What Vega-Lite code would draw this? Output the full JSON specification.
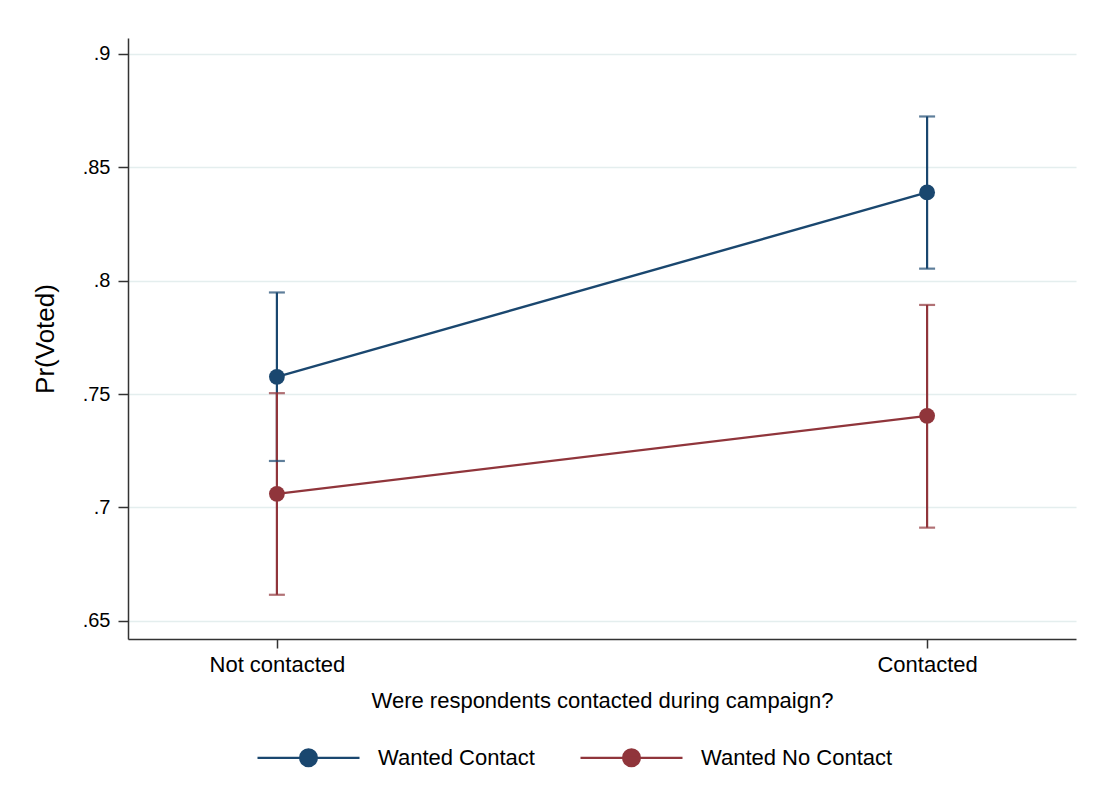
{
  "$schema": "https://vega.github.io/schema/vega-lite/v6.json",
  "autosize": {"type": "none"},
  "width": 948,
  "height": 601,
  "padding": {"left": 128, "top": 38, "right": 21, "bottom": 162},
  "background": "#ffffff",
  "config": {
    "view": {"stroke": null},
    "font": "Liberation Sans",
    "axis": {
      "labelFont": "Liberation Sans",
      "titleFont": "Liberation Sans",
      "labelColor": "#000000",
      "titleColor": "#000000",
      "titleFontWeight": "normal",
      "domainColor": "#333333",
      "domainWidth": 1.5,
      "tickColor": "#333333",
      "tickWidth": 1.5
    }
  },
  "data": {
    "values": [
      {"group": "Wanted Contact", "contact": "Not contacted", "p": 0.7576, "lo": 0.7205, "hi": 0.7948},
      {"group": "Wanted Contact", "contact": "Contacted", "p": 0.8389, "lo": 0.8053, "hi": 0.8724},
      {"group": "Wanted No Contact", "contact": "Not contacted", "p": 0.706, "lo": 0.6615, "hi": 0.7504},
      {"group": "Wanted No Contact", "contact": "Contacted", "p": 0.7404, "lo": 0.6911, "hi": 0.7893}
    ]
  },
  "encoding": {
    "x": {
      "field": "contact",
      "type": "nominal",
      "sort": ["Not contacted", "Contacted"],
      "scale": {"type": "point", "padding": 0.229},
      "axis": {
        "title": "Were respondents contacted during campaign?",
        "titleFontSize": 22,
        "titleY": 68,
        "titleBaseline": "alphabetic",
        "labelFontSize": 22,
        "labelAngle": 0,
        "tickSize": 9,
        "labelPadding": 6,
        "grid": false
      }
    },
    "color": {
      "field": "group",
      "type": "nominal",
      "scale": {"domain": ["Wanted Contact", "Wanted No Contact"], "range": ["#1a476f", "#90353b"]},
      "legend": {
        "title": null,
        "orient": "none",
        "legendX": 128,
        "legendY": 667,
        "direction": "horizontal",
        "symbolType": "M-1,0H1M-0.165,0A0.165,0.165,0,1,1,0.165,0A0.165,0.165,0,1,1,-0.165,0Z",
        "symbolSize": 10404,
        "symbolStrokeWidth": 2.2,
        "labelFont": "Liberation Sans",
        "labelFontSize": 22,
        "labelColor": "#000000",
        "labelOffset": 17,
        "labelLimit": 400,
        "columnPadding": 41,
        "padding": 0,
        "encode": {
          "symbols": {
            "update": {
              "fill": {"scale": "color", "field": "value"},
              "stroke": {"scale": "color", "field": "value"},
              "strokeWidth": {"value": 2.2},
              "opacity": {"value": 1},
              "fillOpacity": {"value": 1}
            }
          }
        }
      }
    }
  },
  "layer": [
    {
      "mark": {"type": "line", "strokeWidth": 2.4},
      "encoding": {
        "y": {
          "field": "p",
          "type": "quantitative",
          "scale": {"domain": [0.642, 0.907], "nice": false, "zero": false},
          "axis": {
            "title": "Pr(Voted)",
            "titleFontSize": 26,
            "titleX": -75,
            "titleY": 300.5,
            "titleAngle": -90,
            "titleBaseline": "alphabetic",
            "titleAlign": "center",
            "values": [0.65, 0.7, 0.75, 0.8, 0.85, 0.9],
            "labelExpr": "replace(format(datum.value, '.2~f'), '0.', '.')",
            "labelFontSize": 20,
            "tickSize": 10,
            "labelPadding": 8,
            "grid": true,
            "gridColor": "#e4eeee",
            "gridWidth": 1.5
          }
        }
      }
    },
    {
      "mark": {"type": "rule", "strokeWidth": 2.2},
      "encoding": {
        "y": {"field": "lo", "type": "quantitative"},
        "y2": {"field": "hi"}
      }
    },
    {
      "transform": [{"fold": ["lo", "hi"], "as": ["bound", "ci"]}],
      "mark": {"type": "tick", "size": 16, "thickness": 2.2},
      "encoding": {
        "y": {"field": "ci", "type": "quantitative"}
      }
    },
    {
      "mark": {"type": "point", "filled": true, "size": 250, "opacity": 1},
      "encoding": {
        "y": {"field": "p", "type": "quantitative"}
      }
    }
  ]
}
